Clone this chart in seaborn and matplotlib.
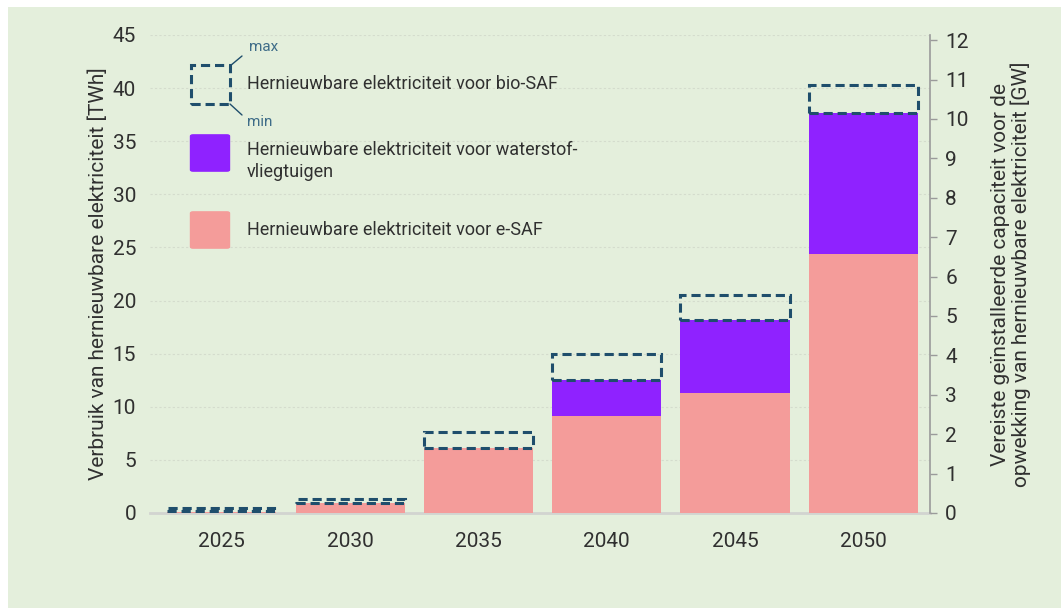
import matplotlib
matplotlib.use("Agg")
import matplotlib.pyplot as plt
import seaborn as sns
import numpy as np
import pandas as pd
from matplotlib.patches import Rectangle, FancyBboxPatch
from matplotlib.lines import Line2D

years = ["2025", "2030", "2035", "2040", "2045", "2050"]
e_saf = [0.1, 0.9, 6.1, 9.1, 11.3, 24.4]
waterstof = [0.0, 0.0, 0.0, 3.4, 6.9, 13.3]
bio_min = [0.1, 0.0, 0.0, 0.0, 0.0, 0.0]
bio_max = [0.4, 0.4, 1.5, 2.5, 2.3, 2.6]

BG = "#E4EFDC"
PINK = "#F49C9A"
PURPLE = "#8F22FF"
DASH = "#1F4E6C"
TXT = "#303030"

sns.set_theme(style="white")
plt.rcParams["font.family"] = ["Roboto", "DejaVu Sans"]

df = pd.DataFrame({"jaar": years, "esaf": e_saf, "h2": waterstof})
df["totaal"] = df["esaf"] + df["h2"]

fig = plt.figure(figsize=(10.61, 6.08), dpi=100)
fig.patch.set_facecolor("white")
fig.patches.append(Rectangle((8 / 1061, 0), 1, 1 - 7 / 608, transform=fig.transFigure,
                             facecolor=BG, edgecolor="none", zorder=-10))

ax = fig.add_axes([150 / 1061, 1 - 513 / 608, 780 / 1061, 478 / 608])
ax.set_facecolor("none")

sns.barplot(data=df, x="jaar", y="totaal", color=PURPLE, saturation=1, width=0.85,
            ax=ax, zorder=2, linewidth=0)
sns.barplot(data=df, x="jaar", y="esaf", color=PINK, saturation=1, width=0.85,
            ax=ax, zorder=3, linewidth=0)

# dashed bio-SAF boxes on top of the stack
base = df["totaal"].to_numpy() + np.array(bio_min)
ax.bar(np.arange(len(years)), np.array(bio_max) - np.array(bio_min), bottom=base,
       width=0.85, fill=False, edgecolor=DASH, linewidth=2.2, linestyle=(0, (3, 1.6)), zorder=4)

ax.set_xlim(-0.56, 5.52)
ax.set_ylim(0, 45)
ax.set_yticks(range(0, 46, 5))
ax.set_xlabel("")
ax.set_ylabel("Verbruik van hernieuwbare elektriciteit [TWh]", fontsize=15, color=TXT, labelpad=3)
ax.tick_params(axis="both", labelsize=15, colors=TXT, length=0)
ax.tick_params(axis="x", pad=14)
ax.tick_params(axis="y", pad=10)
ax.grid(axis="y", color="#D4DCCD", linestyle=(0, (2, 2)), linewidth=0.8, zorder=0)
ax.set_axisbelow(True)
for s in ["top", "left", "right"]:
    ax.spines[s].set_visible(False)
ax.spines["bottom"].set_color("#D2D4D0")
ax.spines["bottom"].set_linewidth(2)

ax2 = ax.twinx()
ax2.set_ylim(0, 45 / 3.71)
ax2.set_yticks(range(0, 13))
ax2.tick_params(axis="y", labelsize=15, colors=TXT, length=5, width=1, direction="out", pad=6)
ax2.tick_params(axis="y", color="#9A9A9A")
for s in ["top", "left", "bottom"]:
    ax2.spines[s].set_visible(False)
ax2.spines["right"].set_color("#9A9A9A")
ax2.spines["right"].set_linewidth(1.2)
ax2.set_ylabel("Vereiste geïnstalleerde capaciteit voor de\nopwekking van hernieuwbare elektriciteit [GW]",
               fontsize=15, color=TXT, labelpad=16, linespacing=1.05)


# legend drawn by hand in figure pixels
def fx(px):
    return px / 1061


def fy(py):
    return 1 - py / 608


tr = fig.transFigure
fig.patches.append(Rectangle((fx(191), fy(104)), fx(39), 39 / 608, transform=tr, fill=False,
                             edgecolor=DASH, linewidth=2.2, linestyle=(0, (3, 1.6)), zorder=5))
fig.lines.append(Line2D([fx(230), fx(242)], [fy(66), fy(56)], transform=tr, color=DASH, lw=1))
fig.lines.append(Line2D([fx(230), fx(242)], [fy(104), fy(115)], transform=tr, color=DASH, lw=1))
fig.text(fx(249), fy(47), "max", fontsize=11, color="#3E6C88", va="center", ha="left")
fig.text(fx(247), fy(122), "min", fontsize=11, color="#3E6C88", va="center", ha="left")
fig.patches.append(FancyBboxPatch((fx(193), fy(170)), fx(34), 34 / 608, boxstyle="round,pad=0.003",
                                  transform=tr, facecolor=PURPLE, edgecolor="none", zorder=5))
fig.patches.append(FancyBboxPatch((fx(193), fy(247)), fx(34), 34 / 608, boxstyle="round,pad=0.003",
                                  transform=tr, facecolor=PINK, edgecolor="none", zorder=5))
fig.text(fx(247), fy(84), "Hernieuwbare elektriciteit voor bio-SAF", fontsize=13, color=TXT, va="center")
fig.text(fx(247), fy(161), "Hernieuwbare elektriciteit voor waterstof-\nvliegtuigen", fontsize=13,
         color=TXT, va="center", linespacing=1.35)
fig.text(fx(247), fy(230), "Hernieuwbare elektriciteit voor e-SAF", fontsize=13, color=TXT, va="center")

fig.savefig("out.png", dpi=100, facecolor=fig.get_facecolor())
